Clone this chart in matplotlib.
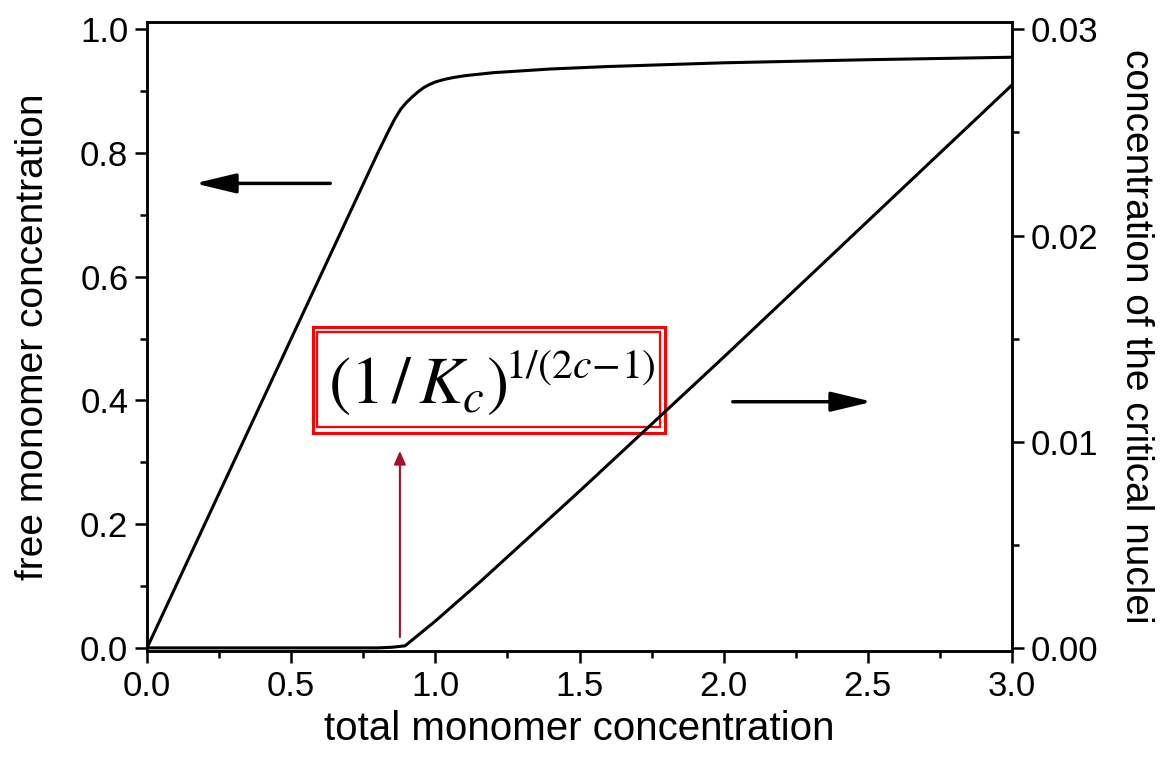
import matplotlib
matplotlib.use('Agg')
import matplotlib.pyplot as plt
from matplotlib.patches import Rectangle

plt.rcParams['font.family'] = ['Liberation Sans', 'DejaVu Sans']
plt.rcParams['mathtext.fontset'] = 'stix'

# free monomer concentration (left axis)
x_free = [0, 0.5, 0.75, 0.80, 0.82, 0.84, 0.86, 0.88, 0.90, 0.92, 0.94, 0.96, 0.98,
          1.0, 1.03, 1.06, 1.1, 1.2, 1.4, 1.6, 2.0, 2.5, 3.0]
y_free = [0, 0.5, 0.75, 0.80, 0.819, 0.838, 0.856, 0.871, 0.882, 0.891, 0.899, 0.906, 0.911,
          0.915, 0.919, 0.922, 0.925, 0.930, 0.936, 0.940, 0.946, 0.951, 0.955]

# concentration of the critical nuclei (right axis)
x_nuc = [0, 0.8, 0.85, 0.895, 1.0, 1.155, 1.5, 2.0, 2.5, 3.0]
y_nuc = [0, 0, 0.00003, 0.0001, 0.0013, 0.0032, 0.0076, 0.0141, 0.0207, 0.0273]

fig = plt.figure(figsize=(11.68, 7.58), dpi=100)
ax = fig.add_axes([0.1259, 0.1412, 0.7405, 0.8298])
ax2 = ax.twinx()

ax.plot(x_free, y_free, color='black', lw=2.2)
ax2.plot(x_nuc, y_nuc, color='black', lw=2.2)

ax.set_xlim(0, 3.0)
ylo, yhi = -0.005, 1.012
ax.set_ylim(ylo, yhi)
ax2.set_ylim(ylo * 0.03, yhi * 0.03)

ax.set_xticks([0, 0.5, 1.0, 1.5, 2.0, 2.5, 3.0])
ax.set_xticks([0.25, 0.75, 1.25, 1.75, 2.25, 2.75], minor=True)
ax.set_yticks([0, 0.2, 0.4, 0.6, 0.8, 1.0])
ax.set_yticks([0.1, 0.3, 0.5, 0.7, 0.9], minor=True)
ax2.set_yticks([0, 0.01, 0.02, 0.03])
ax2.set_yticks([0.005, 0.015, 0.025], minor=True)
ax.set_xticklabels(['0.0', '0.5', '1.0', '1.5', '2.0', '2.5', '3.0'])
ax.set_yticklabels(['0.0', '0.2', '0.4', '0.6', '0.8', '1.0'])
ax2.set_yticklabels(['0.00', '0.01', '0.02', '0.03'])

for a in (ax, ax2):
    for s in a.spines.values():
        s.set_linewidth(1.8)
    a.tick_params(which='major', direction='out', length=8.5, width=1.8, labelsize=25, pad=5)
    a.tick_params(which='minor', direction='out', length=5, width=1.8)
ax.tick_params(top=False, right=False, which='both')

ax.set_xlabel('total monomer concentration', fontsize=29, labelpad=5)
ax.set_ylabel('free monomer concentration', fontsize=28, labelpad=21)
ax2.set_ylabel('concentration of the critical nuclei', fontsize=28, rotation=-90, labelpad=40)

# direction arrows
ax.annotate('', xy=(0.156, 0.751), xytext=(0.645, 0.751),
            arrowprops=dict(arrowstyle='-|>,head_length=2.5,head_width=0.6', color='black', lw=2.5))
ax.annotate('', xy=(2.525, 0.398), xytext=(2.022, 0.398),
            arrowprops=dict(arrowstyle='-|>,head_length=2.5,head_width=0.6', color='black', lw=2.5))

# red arrow pointing at the threshold
ax.annotate('', xy=(0.877, 0.323), xytext=(0.877, 0.013),
            arrowprops=dict(arrowstyle='-|>,head_length=0.8,head_width=0.35', color='#a3112e', lw=1.5))

# double red box with the formula
ax.add_patch(Rectangle((0.574, 0.348), 1.795 - 0.574, 0.519 - 0.348, fill=False,
                       edgecolor='red', lw=2.2, zorder=5))
ax.add_patch(Rectangle((0.591, 0.357), 1.778 - 0.591, 0.510 - 0.357, fill=False,
                       edgecolor='red', lw=1.6, zorder=5))
ax.text(0.628, 0.396, r'$(1\,/\,K_{c})$', fontsize=48, ha='left', va='baseline', zorder=6)
ax.text(1.24, 0.437, r'$1/(2c\!-\!1)$', fontsize=30, ha='left', va='baseline', zorder=6)

fig.savefig('out.png', dpi=100)
